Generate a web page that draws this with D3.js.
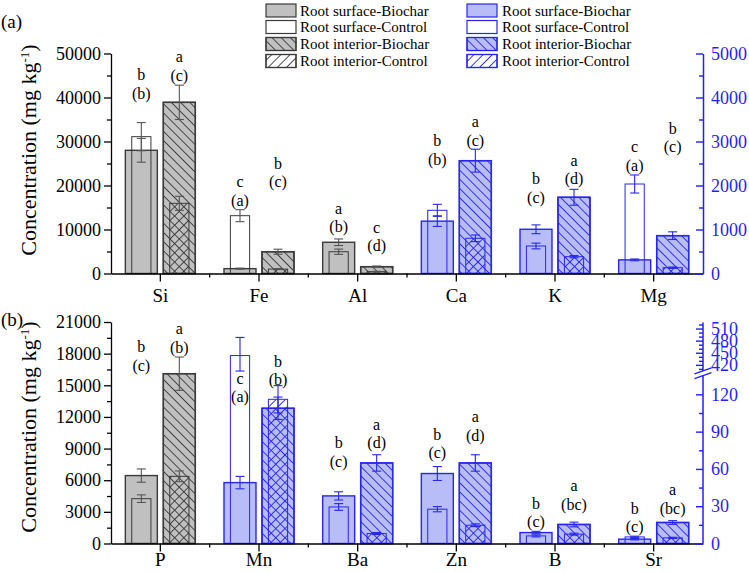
<!DOCTYPE html>
<html><head><meta charset="utf-8">
<script src="https://cdn.jsdelivr.net/npm/d3@7"></script>
<style>body{margin:0;background:#fff}svg{display:block}</style>
</head><body><svg id="c" width="749" height="572"></svg>
<script>
// ---------------- DATA ----------------
const legendLabels = ["Root surface-Biochar","Root surface-Control","Root interior-Biochar","Root interior-Control"];

const catsA = ["Si","Fe","Al","Ca","K","Mg"];
const axisA = ["left","left","left","right","right","right"];
const surfBiocharA = [28000, 1100, 7100, 1190, 1005, 310];
const surfBiocharErrA = [2700, 120, 750, 120, 100, 20];
const surfControlA = [31100, 13140, 4950, 1436, 625, 2034];
const surfControlErrA = [3200, 1360, 600, 136, 65, 205];
const intBiocharA = [38900, 4950, 1550, 2564, 1732, 860];
const intBiocharErrA = [3900, 570, 150, 260, 180, 87];
const intControlA = [15950, 1000, 420, 800, 382, 132];
const intControlErrA = [1600, 120, 80, 75, 25, 15];
const surfLetterA = ["b","c","a","b","b","c"];
const surfGroupA = ["(b)","(a)","(b)","(b)","(c)","(a)"];
const intLetterA = ["a","b","c","a","a","b"];
const intGroupA = ["(c)","(c)","(d)","(c)","(d)","(c)"];
const surfLabelAtA = [41000, 16700, 10600, 2600, 1730, 2460];
const intLabelAtA = [45100, 20900, 6300, 3030, 2160, 2880];

const catsB = ["P","Mn","Ba","Zn","B","Sr"];
const axisB = ["left","right","right","right","right","right"];
const surfBiocharB = [6440, 49, 38.3, 56.3, 8.8, 3.5];
const surfBiocharErrB = [630, 5, 3.3, 5.6, 1.0, 0.6];
const surfControlB = [4250, 443, 29.4, 27.6, 6.1, 5.3];
const surfControlErrB = [360, 45, 2.7, 2.1, 0.8, 0.6];
const intBiocharB = [16100, 108.8, 64.8, 64.8, 15.3, 16.9];
const intBiocharErrB = [1580, 9, 6.6, 6.6, 1.9, 1.5];
const intControlB = [6370, 116, 8, 14.7, 7.5, 4.5];
const intControlErrB = [510, 11, 0.8, 1.1, 0.8, 0.5];
const surfLetterB = ["b","c","b","b","b","b"];
const surfGroupB = ["(c)","(a)","(c)","(c)","(c)","(c)"];
const intLetterB = ["a","b","a","a","a","a"];
const intGroupB = ["(b)","(b)","(d)","(d)","(bc)","(bc)"];
const surfLabelAtB = [16900, 118, 66.4, 73, 17.5, 13.5];
const intLabelAtB = [18630, 132, 81, 87.3, 31.8, 28.3];

const leftTicksA = [0,10000,20000,30000,40000,50000];
const rightTicksA = [0,1000,2000,3000,4000,5000];
const leftTicksB = [0,3000,6000,9000,12000,15000,18000,21000];
const rightTicksB = [0,30,60,90,120,420,450,480,510];

// ---------------- STYLE / LAYOUT ----------------
const FONT = "'Liberation Serif','Times New Roman',Times,serif";
const GRAY = {fill:"#c0c0c0", stroke:"#3a3a3a", err:"#555555", hatch:"#3a3a3a", id:"g"};
const BLUE = {fill:"#b8bdf7", stroke:"#2626ee", err:"#2626ee", hatch:"#2626ee", id:"b"};
const AXBLUE = "#1f1fff";
const X0 = 111, X1 = 703;
const fmt = d3.format("d");

const svg = d3.select("#c");
const defs = svg.append("defs");
function hatch(id, color, angle){
  const s = 6.5;
  const p = defs.append("pattern").attr("id", id).attr("patternUnits","userSpaceOnUse")
    .attr("width", s).attr("height", s).attr("patternTransform", `rotate(${angle})`);
  p.append("line").attr("x1", s/2).attr("y1", -1).attr("x2", s/2).attr("y2", s+1)
    .attr("stroke", color).attr("stroke-width", 0.9);
}
[GRAY, BLUE].forEach(c => { hatch("back-"+c.id, c.hatch, -45); hatch("fwd-"+c.id, c.hatch, 45); });

function panel(o){
  const g = svg.append("g");
  const x = d3.scaleBand().domain(o.cats).range([X0, X1]);
  const bw = x.bandwidth();
  const sub = d3.scaleBand().domain(["surf","int"]).range([bw/2-35, bw/2+35]).paddingInner(0.158);
  const w = sub.bandwidth(), cw = w*0.6;

  const recs = [];
  o.cats.forEach((c,i) => {
    const col = o.side[i]==="left" ? GRAY : BLUE;
    const y = o.side[i]==="left" ? o.yL : o.yR;
    const cx = x(c) + sub("surf") + w/2, ix = x(c) + sub("int") + w/2;
    recs.push({cx, pos:"surf", bio:o.sb[i], bioE:o.sbe[i], ctl:o.sc[i], ctlE:o.sce[i], col, y,
      top:o.sl[i], par:o.sg[i], at:o.sla[i]});
    recs.push({cx:ix, pos:"int", bio:o.ib[i], bioE:o.ibe[i], ctl:o.ic[i], ctlE:o.ice[i], col, y,
      top:o.il[i], par:o.ig[i], at:o.ila[i]});
  });

  g.selectAll("rect.under").data(recs).join("rect").attr("class","under")
    .attr("x", d => d.cx - cw/2).attr("width", cw)
    .attr("y", d => d.y(d.ctl)).attr("height", d => d.y(0) - d.y(d.ctl)).attr("fill","#fff");
  g.selectAll("rect.bio").data(recs).join("rect").attr("class","bio")
    .attr("x", d => d.cx - w/2).attr("width", w)
    .attr("y", d => d.y(d.bio)).attr("height", d => d.y(0) - d.y(d.bio))
    .attr("fill", d => d.col.fill).attr("stroke", d => d.col.stroke).attr("stroke-width", 1.4);
  g.selectAll("rect.biohatch").data(recs.filter(d => d.pos==="int")).join("rect").attr("class","biohatch")
    .attr("x", d => d.cx - w/2).attr("width", w)
    .attr("y", d => d.y(d.bio)).attr("height", d => d.y(0) - d.y(d.bio))
    .attr("fill", d => `url(#back-${d.col.id})`).attr("stroke", d => d.col.stroke).attr("stroke-width", 1.4);
  g.selectAll("rect.ctl").data(recs).join("rect").attr("class","ctl")
    .attr("x", d => d.cx - cw/2).attr("width", cw)
    .attr("y", d => d.y(d.ctl)).attr("height", d => d.y(0) - d.y(d.ctl))
    .attr("fill", d => d.pos==="int" ? `url(#fwd-${d.col.id})` : "none")
    .attr("stroke", d => d.col.stroke).attr("stroke-width", 1);
  const errs = [];
  recs.forEach(d => {
    errs.push({cx:d.cx, v:d.bio, e:d.bioE, y:d.y, col:d.col});
    errs.push({cx:d.cx, v:d.ctl, e:d.ctlE, y:d.y, col:d.col});
  });
  const eg = g.selectAll("g.err").data(errs).join("g").attr("class","err")
    .attr("stroke", d => d.col.err).attr("stroke-width", 1.1).attr("fill","none");
  eg.append("line").attr("x1", d => d.cx).attr("x2", d => d.cx)
    .attr("y1", d => d.y(d.v + d.e)).attr("y2", d => d.y(Math.max(0, d.v - d.e)));
  eg.append("line").attr("x1", d => d.cx - 4.5).attr("x2", d => d.cx + 4.5)
    .attr("y1", d => d.y(d.v + d.e)).attr("y2", d => d.y(d.v + d.e));
  eg.append("line").attr("x1", d => d.cx - 4.5).attr("x2", d => d.cx + 4.5)
    .attr("y1", d => d.y(Math.max(0, d.v - d.e))).attr("y2", d => d.y(Math.max(0, d.v - d.e)));
  g.selectAll("text.par").data(recs).join("text").attr("class","par")
    .attr("x", d => d.cx).attr("y", d => d.y(d.at)).attr("dy","0.35em")
    .attr("text-anchor","middle").attr("font-size",16).text(d => d.par);
  g.selectAll("text.top").data(recs).join("text").attr("class","top")
    .attr("x", d => d.cx).attr("y", d => d.y(d.at) - 18.5).attr("dy","0.35em")
    .attr("text-anchor","middle").attr("font-size",16).text(d => d.top);

  // x axis
  const y0 = o.yL(0);
  const xa = g.append("g").attr("transform", `translate(0,${y0})`)
    .call(d3.axisBottom(x).tickSize(8).tickSizeOuter(0).tickPadding(o.xPad));
  xa.select(".domain").attr("stroke","#000").attr("stroke-width",1.3);
  xa.selectAll("text").attr("font-size",19).attr("fill","#000");
  xa.selectAll(".tick line").attr("stroke-width",1.3);
  const bounds = o.cats.slice(1).map(c => x(c));
  g.selectAll("line.xminor").data(bounds).join("line").attr("class","xminor")
    .attr("x1", d => d).attr("x2", d => d).attr("y1", y0).attr("y2", y0 + 4)
    .attr("stroke","#000").attr("stroke-width",1.3);

  // left axis
  const la = g.append("g").attr("transform", `translate(${X0},0)`)
    .call(d3.axisLeft(o.yL).tickValues(o.lTicks).tickFormat(fmt).tickSize(7).tickPadding(3).tickSizeOuter(0));
  la.select(".domain").attr("stroke-width",1.3);
  la.selectAll(".tick line").attr("stroke-width",1.3);
  la.selectAll("text").attr("font-size",18).attr("fill","#000");
  const step = o.lTicks[1] - o.lTicks[0];
  const lMinor = o.lTicks.slice(0,-1).map(v => v + step/2);
  const lm = g.append("g").attr("transform", `translate(${X0},0)`)
    .call(d3.axisLeft(o.yL).tickValues(lMinor).tickSize(4).tickFormat(""));
  lm.select(".domain").remove();
  lm.selectAll(".tick line").attr("stroke-width",1.3);

  const t = g.append("text").attr("transform", `translate(36,${o.titleY}) rotate(-90)`)
    .attr("text-anchor","middle").attr("font-size",22);
  t.append("tspan").text("Concentration (mg kg");
  t.append("tspan").attr("font-size",13).attr("dy",-7.5).text("-1");
  t.append("tspan").attr("dy",7.5).text(")");
  g.append("text").attr("x",1).attr("y",o.tagY).attr("font-size",19).text(o.tag);
  return {g, x};
}

// ---------------- PANEL A ----------------
const yAL = d3.scaleLinear().domain([0,50000]).range([273.5,53.5]);
const yAR = d3.scaleLinear().domain([0,5000]).range([273.5,53.5]);
const pA = panel({cats:catsA, side:axisA, yL:yAL, yR:yAR,
  sb:surfBiocharA, sbe:surfBiocharErrA, sc:surfControlA, sce:surfControlErrA,
  ib:intBiocharA, ibe:intBiocharErrA, ic:intControlA, ice:intControlErrA,
  sl:surfLetterA, sg:surfGroupA, il:intLetterA, ig:intGroupA, sla:surfLabelAtA, ila:intLabelAtA,
  lTicks:leftTicksA, xPad:7, titleY:150, tag:"(a)", tagY:28});
{
  const ra = pA.g.append("g").attr("transform", `translate(${X1},0)`)
    .call(d3.axisRight(yAR).tickValues(rightTicksA).tickFormat(fmt).tickSize(-7).tickPadding(8).tickSizeOuter(0));
  ra.select(".domain").attr("stroke",AXBLUE).attr("stroke-width",1.5);
  ra.selectAll(".tick line").attr("stroke",AXBLUE).attr("stroke-width",1.4);
  ra.selectAll("text").attr("fill",AXBLUE).attr("font-size",18);
  const rm = pA.g.append("g").attr("transform", `translate(${X1},0)`)
    .call(d3.axisRight(yAR).tickValues(rightTicksA.slice(0,-1).map(v => v+500)).tickSize(-4).tickFormat(""));
  rm.select(".domain").remove();
  rm.selectAll(".tick line").attr("stroke",AXBLUE).attr("stroke-width",1.4);
}

// ---------------- PANEL B ----------------
const yBL = d3.scaleLinear().domain([0,21000]).range([543.5,322]);
const yBR = d3.scaleLinear().domain([0,135,405,525]).range([543.5,375.7,370.9,322.5]);
const pB = panel({cats:catsB, side:axisB, yL:yBL, yR:yBR,
  sb:surfBiocharB, sbe:surfBiocharErrB, sc:surfControlB, sce:surfControlErrB,
  ib:intBiocharB, ibe:intBiocharErrB, ic:intControlB, ice:intControlErrB,
  sl:surfLetterB, sg:surfGroupB, il:intLetterB, ig:intGroupB, sla:surfLabelAtB, ila:intLabelAtB,
  lTicks:leftTicksB, xPad:1, titleY:427, tag:"(b)", tagY:326});
{
  const g = pB.g;
  const ra = g.append("g").attr("transform", `translate(${X1},0)`)
    .call(d3.axisRight(yBR).tickValues(rightTicksB).tickFormat(fmt).tickSize(-7).tickPadding(8));
  ra.select(".domain").remove();
  ra.selectAll(".tick line").attr("stroke",AXBLUE).attr("stroke-width",1.4);
  ra.selectAll("text").attr("fill",AXBLUE).attr("font-size",18);
  const minors = [15,45,75,105,410,430,440,460,470,490,500,520];
  const rm = g.append("g").attr("transform", `translate(${X1},0)`)
    .call(d3.axisRight(yBR).tickValues(minors).tickSize(-4).tickFormat(""));
  rm.select(".domain").remove();
  rm.selectAll(".tick line").attr("stroke",AXBLUE).attr("stroke-width",1.4);
  g.append("line").attr("x1",X1).attr("x2",X1).attr("y1",yBR(0)).attr("y2",yBR(135))
    .attr("stroke",AXBLUE).attr("stroke-width",1.5);
  g.append("line").attr("x1",X1).attr("x2",X1).attr("y1",yBR(405)).attr("y2",yBR(525))
    .attr("stroke",AXBLUE).attr("stroke-width",1.5);
  const yl = yBR(135), yu = yBR(405);
  [yl, yu].forEach(yy => {
    g.append("line").attr("x1",X1-8.5).attr("y1",yy+3).attr("x2",X1+8.5).attr("y2",yy-3)
      .attr("stroke",AXBLUE).attr("stroke-width",1.4);
  });
}

// ---------------- LEGEND ----------------
[[GRAY,266,300],[BLUE,467,502]].forEach(([col,sx,tx]) => {
  const rows = [10.5,27,44,61];
  const lg = svg.append("g");
  legendLabels.forEach((lab,i) => {
    const yy = rows[i];
    const fill = (i===0 || i===2) ? col.fill : "#fff";
    lg.append("rect").attr("x",sx).attr("y",yy-6.5).attr("width",30).attr("height",13)
      .attr("fill",fill).attr("stroke",col.stroke).attr("stroke-width",1.2);
    if (i>=2) lg.append("rect").attr("x",sx).attr("y",yy-6.5).attr("width",30).attr("height",13)
      .attr("fill", i===2 ? `url(#back-${col.id})` : `url(#fwd-${col.id})`)
      .attr("stroke",col.stroke).attr("stroke-width",1.2);
    lg.append("text").attr("x",tx).attr("y",yy).attr("dy","0.35em").attr("font-size",15).text(lab);
  });
});

svg.selectAll("text").style("font-family", FONT);
</script></body></html>
